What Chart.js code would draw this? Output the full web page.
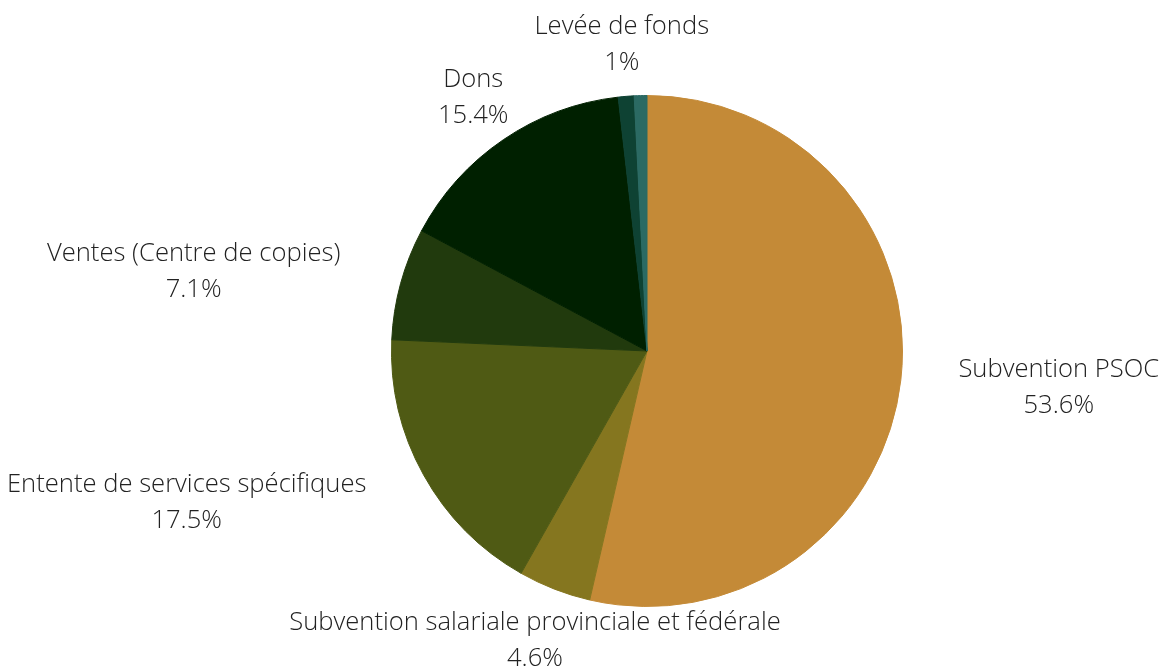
<!DOCTYPE html>
<html>
<head>
<meta charset="utf-8">
<script src="https://cdn.jsdelivr.net/npm/chart.js@4"></script>
<style>
  html, body { margin: 0; padding: 0; background: #fff; }
  #wrap { width: 1163px; height: 669px; position: relative; }
</style>
</head>
<body>
<div id="wrap"><canvas id="chart_pie"></canvas></div>
<script>
const LABELS = [
  'Subvention PSOC',
  'Subvention salariale provinciale et fédérale',
  'Entente de services spécifiques',
  'Ventes (Centre de copies)',
  'Dons',
  'Levée de fonds',
  '',
];
const VALUES = [53.6, 4.6, 17.5, 7.1, 15.4, 1, 0.8];
const COLORS = ['#c48a37', '#85761f', '#4f5a14', '#213a0d', '#002000', '#0e4233', '#2b6a63'];

const FONT = { family: 'Open Sans', size: 25.6, weight: '300' };

// labels sit on the slice's ray, pushed sideways when they would cover the pie
const outerLabels = {
  id: 'outerLabels',
  afterDatasetsDraw(chart) {
    const ctx = chart.ctx;
    const meta = chart.getDatasetMeta(0);
    ctx.save();
    ctx.font = `${FONT.weight} ${FONT.size}px "${FONT.family}"`;
    ctx.fillStyle = '#222';
    ctx.textAlign = 'center';
    ctx.textBaseline = 'middle';
    const lineH = 36;
    const gap = 56;
    meta.data.forEach((arc, i) => {
      if (!LABELS[i]) return;
      const { x, y, startAngle, endAngle, outerRadius: r } = arc.getProps(['x', 'y', 'startAngle', 'endAngle', 'outerRadius'], true);
      const mid = (startAngle + endAngle) / 2;
      const lines = [LABELS[i], VALUES[i] + '%'];
      const w = Math.max(...lines.map(l => ctx.measureText(l).width));
      const h = 60;
      let cx = Math.cos(mid) * r * 1.21;
      const cy = Math.sin(mid) * r * 1.21 + 2;
      const y0 = cy - h / 2, y1 = cy + h / 2;
      const ymin = (y0 < 0 && y1 > 0) ? 0 : Math.min(Math.abs(y0), Math.abs(y1));
      if (ymin < r) {
        const hx = Math.sqrt(r * r - ymin * ymin);
        if (cx > 0 && cx - w / 2 < hx) cx = hx + gap + w / 2;
        if (cx < 0 && cx + w / 2 > -hx) cx = -hx - gap - w / 2;
      }
      lines.forEach((l, k) => {
        ctx.fillText(l, x + cx, y + cy + (k - 0.5) * lineH);
      });
    });
    ctx.restore();
  }
};

new Chart(document.getElementById('chart_pie').getContext('2d'), {
  type: 'pie',
  data: {
    labels: LABELS,
    datasets: [{
      data: VALUES,
      backgroundColor: COLORS,
      borderColor: COLORS,
      borderWidth: 1,
      hoverOffset: 0,
    }]
  },
  options: {
    responsive: true,
    maintainAspectRatio: false,
    animation: false,
    layout: { padding: { left: 131, right: 0, top: 95, bottom: 62 } },
    plugins: {
      legend: { display: false },
      tooltip: { enabled: false },
    },
  },
  plugins: [outerLabels],
});
</script>
</body>
</html>
